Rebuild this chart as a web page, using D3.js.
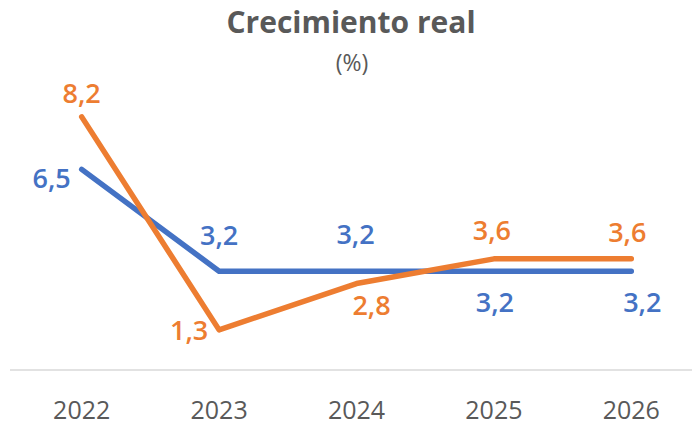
<!DOCTYPE html>
<html><head><meta charset="utf-8">
<script src="https://cdn.jsdelivr.net/npm/d3@7"></script>
<style>
html,body{margin:0;padding:0;background:#fff;}
svg{display:block;font-family:"Open Sans",sans-serif;}
</style></head>
<body>
<svg id="chart" width="692" height="429"></svg>
<script>
const years = ["2022","2023","2024","2025","2026"];
const blueValues = [6.5, 3.2, 3.2, 3.2, 3.2];
const orangeValues = [8.2, 1.3, 2.8, 3.6, 3.6];
const blueLabels = ["6,5","3,2","3,2","3,2","3,2"];
const orangeLabels = ["8,2","1,3","2,8","3,6","3,6"];
const titleText = "Crecimiento real";
const subtitleText = "(%)";

// layout: label centre offsets from the point (pixels)
const blueLabelOffsets = [[-30, 9], [0, -36], [-1, -37], [1, 31], [11, 31]];
const orangeLabelOffsets = [[0, -23.5], [-30, 1], [15, 22], [-2, -28], [-4, -26.5]];

const svg = d3.select("#chart");
const x = d3.scaleBand().domain(years).range([13, 700]).padding(0);
const cx = d => x(d) + x.bandwidth()/2;
const y = d3.scaleLinear().domain([0, 10]).range([370, 61.3]);

const gray = "#595959";
const blue = "#4472C4", orange = "#ED7D31";

svg.append("text").attr("x", 351).attr("y", 33).attr("text-anchor","middle")
  .attr("font-size", 30).attr("font-weight", 700).attr("fill", gray).text(titleText);
svg.append("text").attr("x", 352).attr("y", 71).attr("text-anchor","middle")
  .attr("font-size", 23).attr("fill", gray).text(subtitleText);

// axis
const xAxis = d3.axisBottom(x).tickSize(0).tickPadding(31);
const ax = svg.append("g").attr("transform","translate(0,370)").call(xAxis);
ax.select(".domain").attr("stroke","#D9D9D9").attr("stroke-width",1.5).attr("d","M10,0H692");
ax.selectAll("text").attr("font-size",25).attr("fill",gray).attr("font-family","'Open Sans',sans-serif");

const line = d3.line().x((d,i)=>cx(years[i])).y(d=>y(d));
function drawSeries(vals, color){
  svg.append("path").datum(vals).attr("d", line).attr("fill","none")
    .attr("stroke", color).attr("stroke-width", 5.5)
    .attr("stroke-linecap","round").attr("stroke-linejoin","round");
}
drawSeries(blueValues, blue);
drawSeries(orangeValues, orange);

function drawLabels(vals, labels, offs, color){
  svg.append("g").selectAll("text").data(vals).join("text")
    .attr("x",(d,i)=>cx(years[i]) + offs[i][0])
    .attr("y",(d,i)=>y(d) + offs[i][1] + 9.5)
    .attr("text-anchor","middle").attr("font-size",27).attr("font-weight",600)
    .attr("fill",color).text((d,i)=>labels[i]);
}
drawLabels(blueValues, blueLabels, blueLabelOffsets, blue);
drawLabels(orangeValues, orangeLabels, orangeLabelOffsets, orange);
</script>
</body></html>
